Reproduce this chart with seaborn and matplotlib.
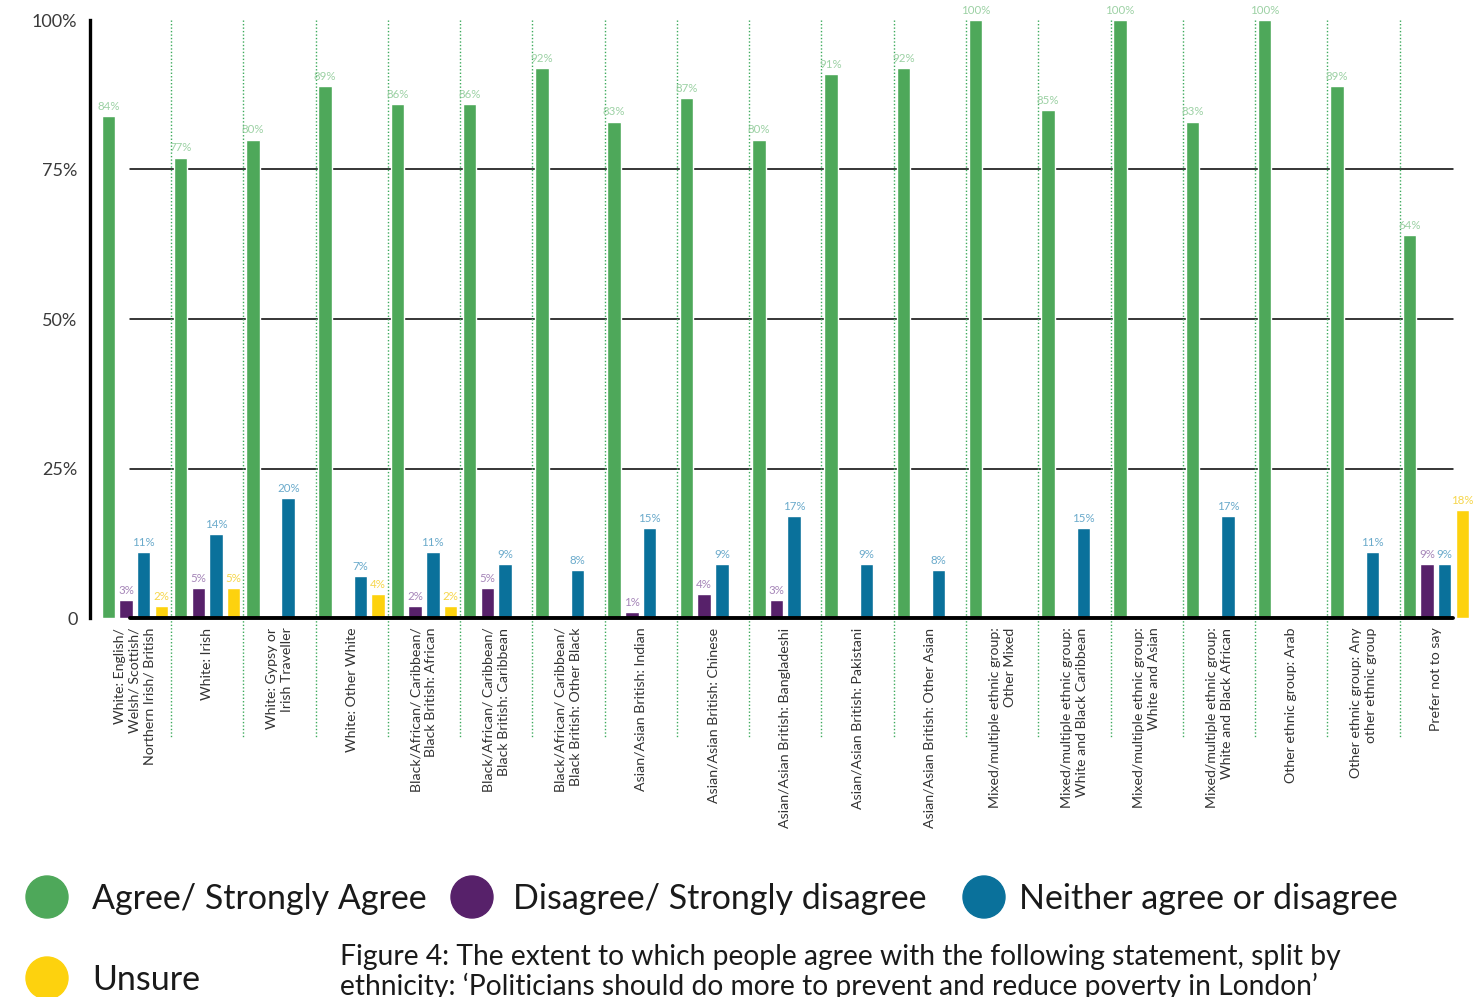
import numpy as np
import pandas as pd
import matplotlib
matplotlib.use("Agg")
import matplotlib.pyplot as plt
import matplotlib.transforms as mtransforms
from matplotlib.patches import Circle
import seaborn as sns

# ---------------- data ----------------
categories = [
    "White: English/\nWelsh/ Scottish/\nNorthern Irish/ British",
    "White: Irish",
    "White: Gypsy or\nIrish Traveller",
    "White: Other White",
    "Black/African/ Caribbean/\nBlack British: African",
    "Black/African/ Caribbean/\nBlack British: Caribbean",
    "Black/African/ Caribbean/\nBlack British: Other Black",
    "Asian/Asian British: Indian",
    "Asian/Asian British: Chinese",
    "Asian/Asian British: Bangladeshi",
    "Asian/Asian British: Pakistani",
    "Asian/Asian British: Other Asian",
    "Mixed/multiple ethnic group:\nOther Mixed",
    "Mixed/multiple ethnic group:\nWhite and Black Caribbean",
    "Mixed/multiple ethnic group:\nWhite and Asian",
    "Mixed/multiple ethnic group:\nWhite and Black African",
    "Other ethnic group: Arab",
    "Other ethnic group: Any\nother ethnic group",
    "Prefer not to say",
]
series = [
    "Agree/ Strongly Agree",
    "Disagree/ Strongly disagree",
    "Neither agree or disagree",
    "Unsure",
]
agree    = [84, 77, 80, 89, 86, 86, 92, 83, 87, 80, 91, 92, 100, 85, 100, 83, 100, 89, 64]
disagree = [3, 5, 0, 0, 2, 5, 0, 1, 4, 3, 0, 0, 0, 0, 0, 0, 0, 0, 9]
neither  = [11, 14, 20, 7, 11, 9, 8, 15, 9, 17, 9, 8, 0, 15, 0, 17, 0, 11, 9]
unsure   = [2, 5, 0, 4, 2, 0, 0, 0, 0, 0, 0, 0, 0, 0, 0, 0, 0, 0, 18]
yticks = [0, 25, 50, 75, 100]
ytick_labels = ["0", "25%", "50%", "75%", "100%"]
caption = ("Figure 4: The extent to which people agree with the following statement, split by\n"
           "ethnicity: \u2018Politicians should do more to prevent and reduce poverty in London\u2019")

# ---------------- style ----------------
colors = ["#4EA85A", "#57216A", "#0A719B", "#FDD20E"]
label_colors = ["#9CD1A4", "#A585B8", "#6AAACB", "#F6D64A"]

sns.set_theme(style="white")
plt.rcParams["font.family"] = ["Lato", "DejaVu Sans"]

values = [agree, disagree, neither, unsure]
rows = []
for s, vals in zip(series, values):
    for c, v in zip(categories, vals):
        rows.append({"category": c, "series": s, "value": v})
df = pd.DataFrame(rows)

W, H = 1475, 997
fig = plt.figure(figsize=(W / 100, H / 100), dpi=100)
ax = fig.add_axes([90 / W, 1 - 618 / H, (1472 - 90) / W, 598 / H])

sns.barplot(data=df, x="category", y="value", hue="series", order=categories,
            hue_order=series, palette=colors, saturation=1, width=0.98, gap=0.24,
            errorbar=None, legend=False, ax=ax, zorder=3)

ax.set_ylim(0, 100)
ax.set_xlim(-0.62, len(categories) - 0.5)
ax.set_xlabel("")
ax.set_ylabel("")

# value labels
for cont, vals, col in zip(ax.containers, values, label_colors):
    ax.bar_label(cont, labels=[f"{v}%" if v > 0 else "" for v in vals],
                 color=col, fontsize=8.3, padding=3)

# axes styling
for side in ["top", "right", "bottom"]:
    ax.spines[side].set_visible(False)
ax.spines["left"].set_linewidth(2.4)
ax.spines["left"].set_color("black")

x0f = (130 - 90) / (1472 - 90)
x1f = (1453 - 90) / (1472 - 90)
for yv in [25, 50, 75]:
    ax.axhline(yv, xmin=x0f, xmax=x1f, color="black", lw=1.1, zorder=1)
ax.axhline(0, xmin=x0f, xmax=x1f, color="black", lw=2.8, zorder=4, clip_on=False)

# dotted separators between categories
trans = mtransforms.blended_transform_factory(ax.transData, ax.transAxes)
for i in range(len(categories) - 1):
    ax.plot([i + 0.5, i + 0.5], [1.0, -0.2], transform=trans, color="#3DAA5C",
            lw=1.0, ls=(0, (1, 1.5)), clip_on=False, zorder=2)

ax.set_yticks(yticks)
ax.set_yticklabels(ytick_labels, fontsize=13, color="#3A3A3A")
ax.tick_params(axis="y", length=0, pad=9)
ax.tick_params(axis="x", length=0, pad=7)
ax.set_xticks(range(len(categories)))
ax.set_xticklabels(categories, rotation=90, ha="center", va="top",
                   fontsize=10.2, color="#333333")
for lbl in ax.get_xticklabels():
    lbl.set_multialignment("right")
    lbl.set_linespacing(1.3)

# ---------------- legend & caption (pixel-coordinate overlay) ----------------
lax = fig.add_axes([0, 0, 1, 1])
lax.set_xlim(0, W)
lax.set_ylim(H, 0)
lax.axis("off")
lax.patch.set_alpha(0)

legend_items = [
    (47, 897, 92, series[0], colors[0]),
    (472, 897, 513, series[1], colors[1]),
    (984, 897, 1019, series[2], colors[2]),
    (47, 978, 92, series[3], colors[3]),
]
for cx, cy, tx, txt, col in legend_items:
    lax.add_patch(Circle((cx, cy), 21, color=col, clip_on=False))
    lax.text(tx, cy + 2, txt, va="center", ha="left", fontsize=24.5,
             color="#1A1A1A")

lax.text(340, 944, caption, va="top", ha="left", fontsize=20.3,
         color="#1A1A1A", linespacing=1.1)

fig.savefig("out.png", dpi=100)
